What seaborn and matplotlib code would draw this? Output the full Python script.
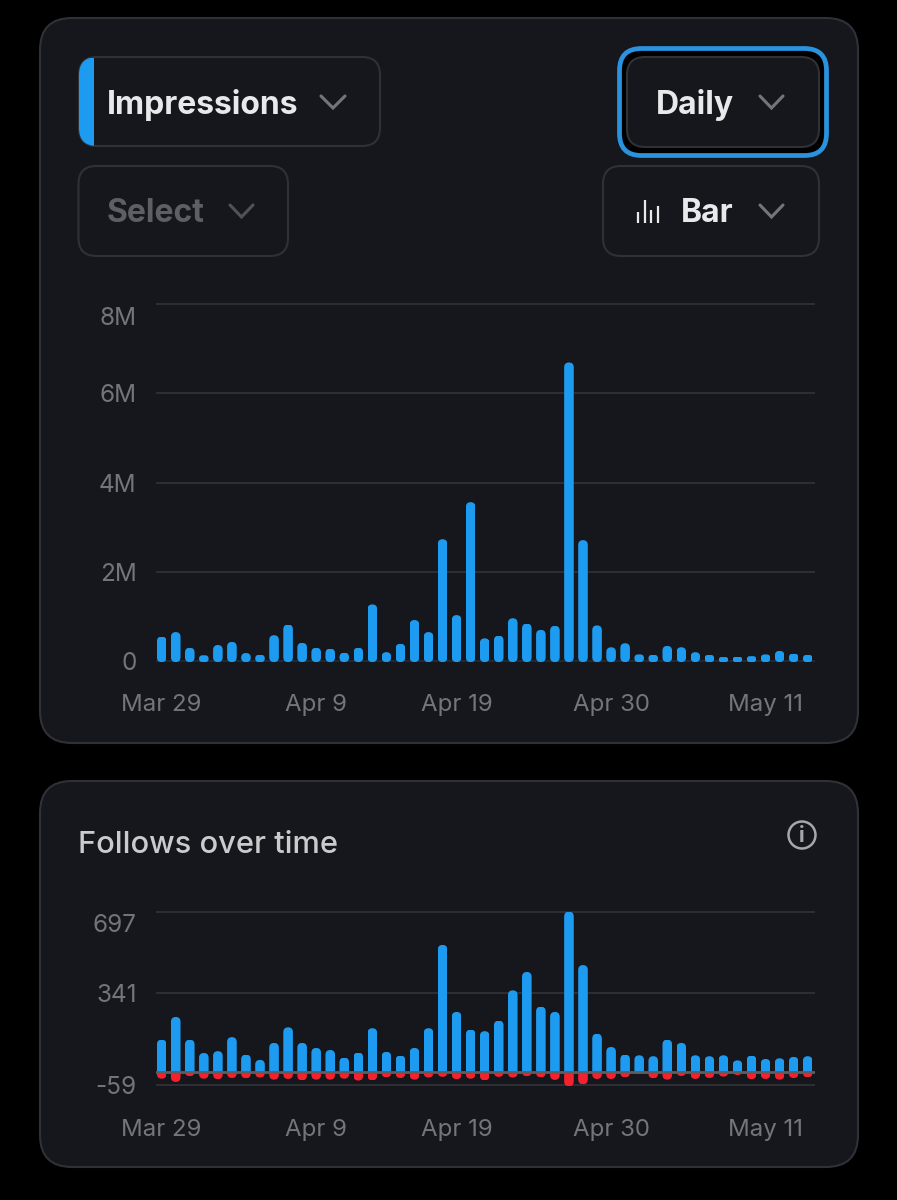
import matplotlib
matplotlib.use("Agg")
import matplotlib.pyplot as plt
import pandas as pd
import seaborn as sns
from matplotlib.patches import Circle, FancyBboxPatch
from matplotlib.transforms import Bbox, IdentityTransform, ScaledTranslation

# data
days = pd.date_range("2024-03-29", periods=47).strftime("%b %-d").tolist()
tick_days = ["Mar 29", "Apr 9", "Apr 19", "Apr 30", "May 11"]

impressions_m = [0.55, 0.65, 0.30, 0.13, 0.36, 0.43, 0.18, 0.14, 0.58, 0.82,
                 0.41, 0.30, 0.28, 0.19, 0.30, 1.27, 0.20, 0.39, 0.92, 0.65,
                 2.73, 1.03, 3.56, 0.51, 0.57, 0.96, 0.84, 0.70, 0.79, 6.69,
                 2.71, 0.80, 0.31, 0.40, 0.15, 0.14, 0.34, 0.31, 0.20, 0.14,
                 0.09, 0.10, 0.11, 0.15, 0.23, 0.17, 0.14]
imp_ticks = [0, 2, 4, 6, 8]
imp_labels = ["0", "2M", "4M", "6M", "8M"]

follows = [139, 238, 139, 81, 89, 150, 74, 51, 125, 193, 125, 103, 94, 61, 83,
           189, 86, 70, 103, 189, 552, 260, 183, 176, 222, 354, 434, 283, 260,
           697, 464, 165, 107, 74, 71, 67, 139, 125, 71, 67, 71, 49, 70, 55,
           58, 64, 67]
unfollows = [-31, -45, -20, -31, -33, -28, -29, -26, -35, -32, -38, -35, -35,
             -31, -39, -38, -25, -28, -35, -26, -23, -33, -31, -38, -23, -26,
             -20, -25, -36, -64, -55, -32, -32, -25, -10, -29, -35, -19, -32,
             -28, -22, -15, -33, -32, -35, -28, -25]
fol_ticks = [-59, 341, 697]
fol_labels = ["-59", "341", "697"]

BG = "#16171c"
EDGE = "#2f3136"
GRID = "#2c2e33"
BLUE = "#1d9bf0"
RED = "#f4212e"
GREY = "#71767b"
WHITE = "#e7e9ea"
W, H = 897, 1200

sns.set_theme(style="dark")
plt.rcParams["font.family"] = ["Inter", "DejaVu Sans"]

fig = plt.figure(figsize=(W / 100, H / 100), dpi=100, facecolor="black")

# background layer in pixel coords, y going down
bg = fig.add_axes([0, 0, 1, 1])
bg.set_xlim(0, W)
bg.set_ylim(H, 0)
bg.axis("off")


def box(x0, y0, x1, y1, r, fc=BG, ec=EDGE, lw=1.5):
    p = FancyBboxPatch((x0 + r, y0 + r), x1 - x0 - 2 * r, y1 - y0 - 2 * r,
                       boxstyle=f"round,pad={r},rounding_size={r}",
                       fc=fc, ec=ec, lw=lw)
    bg.add_patch(p)
    return p


def chevron(x0, x1, y0, y1, color=GREY):
    bg.plot([x0, (x0 + x1) / 2, x1], [y0, y1, y0], color=color, lw=2.2,
            solid_capstyle="round", solid_joinstyle="miter")


def button_text(x, y, s, color=WHITE):
    bg.text(x, y, s, color=color, fontsize=23, fontweight="bold",
            ha="left", va="center")


# cards
box(40, 18, 858, 743, 32)
box(40, 781, 858, 1167, 32)

# Impressions button, with the blue strip clipped to its rounded shape
imp_box = box(79, 57, 380, 146, 18)
strip = bg.fill_between([79, 93.5], 57.5, 145.5, color=BLUE, lw=0, zorder=3)
strip.set_clip_path(imp_box)
button_text(107, 105, "Impressions")
chevron(321, 345, 96, 108)

# Daily button with focus ring
box(619.5, 48.5, 826.5, 155.5, 22, fc="black", ec="#2a93e0", lw=3.4)
box(627, 57, 819, 147, 18)
button_text(656, 105, "Daily")
chevron(760, 783, 96, 108)

box(78.5, 166, 288, 256, 18)
button_text(107, 214, "Select", color="#5c5f64")
chevron(230, 253, 205, 217, color="#4f5256")

box(603, 166, 819, 256, 18)
button_text(681, 214, "Bar")
chevron(760, 783, 205, 217)
for ix, top in zip([638, 644.5, 651, 658], [212, 200, 210, 206]):
    bg.plot([ix, ix], [top, 223], color=WHITE, lw=1.6, solid_capstyle="butt")

bg.text(78, 845, "Follows over time", color="#c9cbcd", fontsize=22.2,
        fontweight="medium", ha="left", va="center")
bg.add_patch(Circle((802, 835), 13.5, fc="none", ec="#a5a8ab", lw=1.8))
bg.text(802, 835.5, "i", color="#a5a8ab", fontsize=15, fontweight="bold",
        ha="center", va="center")


def chart_axes(x0, x1, y0, y1):
    return fig.add_axes([x0 / W, 1 - y1 / H, (x1 - x0) / W, (y1 - y0) / H],
                        facecolor="none")


def pill_shape(x0, x1, y0, y1, r, **kw):
    return FancyBboxPatch((x0 + r, y0 + r), x1 - x0 - 2 * r, y1 - y0 - 2 * r,
                          boxstyle=f"round,pad={r},rounding_size={r}",
                          transform=IdentityTransform(), **kw)


def pill(ax, rect, color, square_bottom=False, square_top=False, overshoot=0):
    # round a seaborn bar, working in display pixels
    b = rect.get_window_extent()
    x0, x1, y0, y1 = b.x0, b.x1, b.y0 - overshoot, b.y1
    if y1 - y0 < 0.5:
        return
    clip = Bbox.from_extents(x0, y0, x1, y1)
    r = min(x1 - x0, y1 - y0) / 2
    if square_bottom or square_top:
        r = (x1 - x0) / 2
    if square_bottom:
        y0 -= 2 * r
    if square_top:
        y1 += 2 * r
    # clip the bar a little inside, a smooth pill on top gives the clean edge
    inset = min(0.6, r / 2)
    rect.set_clip_path(pill_shape(x0 + inset, x1 - inset, y0 + inset,
                                  y1 - inset, r - inset))
    cap = pill_shape(x0, x1, y0, y1, r, fc=color, lw=0, zorder=3)
    ax.add_patch(cap)
    cap.set_clip_box(clip)


def style_axes(ax, ticks, labels, first_down, xpad):
    # slot 0 of 47 sits at x=161.7 px, slot 46 at x=807.7 px
    ax.set_xlim(-0.406, 46.52)
    ax.set_xticks([days.index(d) for d in tick_days])
    ax.set_xticklabels(tick_days)
    ax.set_yticks(ticks)
    ax.set_yticklabels(labels)
    ax.set_xlabel("")
    ax.set_ylabel("")
    ax.grid(axis="y", color=GRID, lw=1.5, zorder=0)
    ax.grid(axis="x", visible=False)
    ax.set_axisbelow(True)
    sns.despine(ax=ax, left=True, bottom=True)
    ax.tick_params(axis="x", length=0, labelcolor=GREY, labelsize=17.3, pad=xpad)
    ax.tick_params(axis="y", length=0, labelcolor=GREY, labelsize=17.5, pad=14)
    # the top label hangs below its grid line
    top = ax.get_yticklabels()[-1]
    top.set_transform(top.get_transform() +
                      ScaledTranslation(0, -first_down / 72, fig.dpi_scale_trans))


# top chart
ax1 = chart_axes(156, 815, 300, 665)
imp_df = pd.DataFrame({"day": days, "value": impressions_m})
sns.barplot(data=imp_df, x="day", y="value", color=BLUE, saturation=1,
            width=0.68, linewidth=0, ax=ax1, zorder=3)
ax1.set_ylim(-0.0872, 8.0895)
style_axes(ax1, imp_ticks, imp_labels, 8.5, 21)
ax1.get_ygridlines()[0].set_color("#26282c")
for bar in list(ax1.patches):
    pill(ax1, bar, BLUE, overshoot=1)

# bottom chart
ax2 = chart_axes(156, 815, 905, 1095)
fol_df = pd.DataFrame({"day": days, "follows": follows, "unfollows": unfollows})
sns.barplot(data=fol_df, x="day", y="follows", color=BLUE, saturation=1,
            width=0.68, linewidth=0, ax=ax2, zorder=3)
n_blue = len(ax2.patches)
sns.barplot(data=fol_df, x="day", y="unfollows", color=RED, saturation=1,
            width=0.68, linewidth=0, ax=ax2, zorder=3)
ax2.set_ylim(-102, 726)
style_axes(ax2, fol_ticks, fol_labels, 8, 17)
ax2.axhline(0, color="#5b5e62", lw=2, zorder=4)
for i, bar in enumerate(list(ax2.patches)):
    if i < n_blue:
        pill(ax2, bar, BLUE, square_bottom=True)
    else:
        pill(ax2, bar, RED, square_top=True)

fig.savefig("out.png", dpi=100, facecolor="black")
